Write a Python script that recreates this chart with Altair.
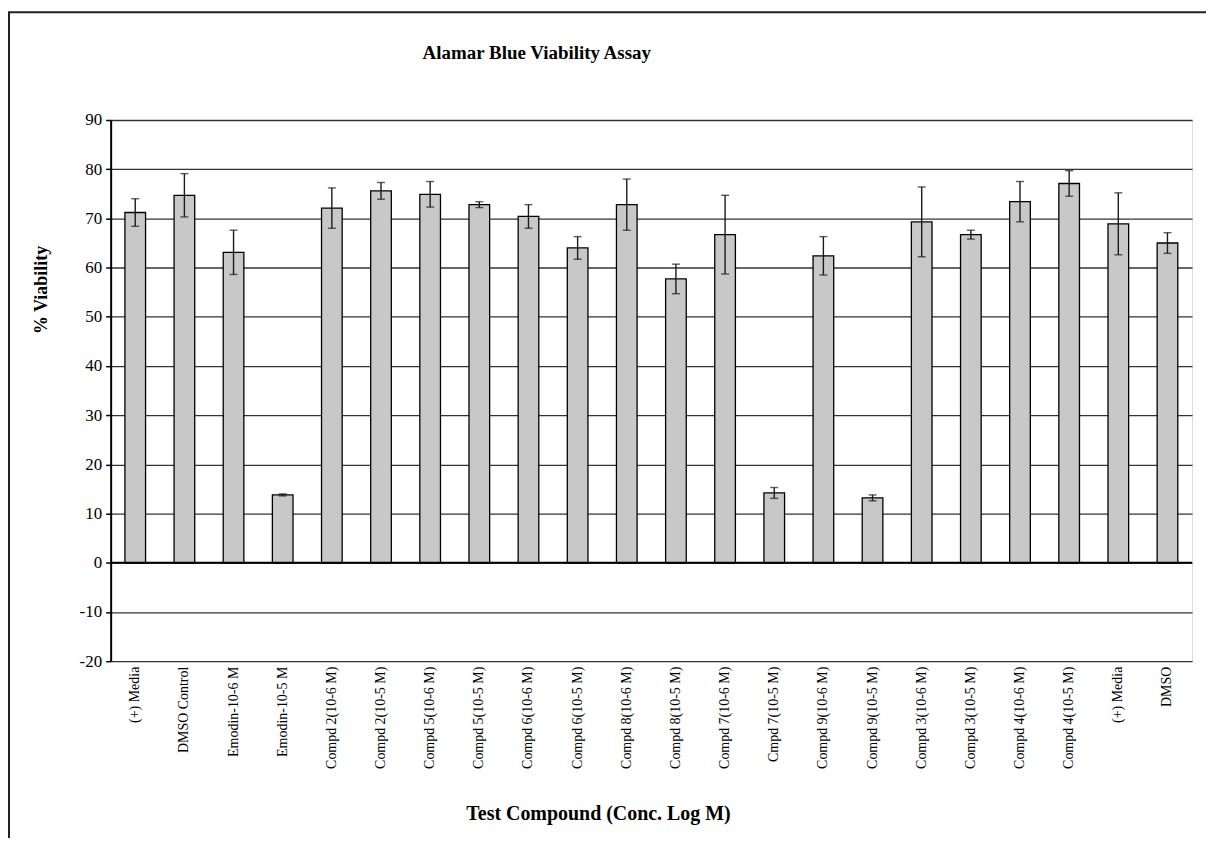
import json
import altair as alt
import pandas as pd

labels = ["(+) Media", "DMSO Control", "Emodin-10-6 M", "Emodin-10-5 M",
          "Compd 2(10-6 M)", "Compd 2(10-5 M)", "Compd 5(10-6 M)", "Compd 5(10-5 M)",
          "Compd 6(10-6 M)", "Compd 6(10-5 M)", "Compd 8(10-6 M)", "Compd 8(10-5 M)",
          "Compd 7(10-6 M)", "Cmpd 7(10-5 M)", "Compd 9(10-6 M)", "Compd 9(10-5 M)",
          "Compd 3(10-6 M)", "Compd 3(10-5 M)", "Compd 4(10-6 M)", "Compd 4(10-5 M)",
          "(+) Media", "DMSO"]
values = [71.2, 74.7, 63.1, 13.8, 72.1, 75.6, 74.9, 72.8, 70.4, 64.0, 72.8, 57.7,
          66.7, 14.2, 62.4, 13.2, 69.3, 66.7, 73.4, 77.1, 68.9, 65.0]
errors = [2.8, 4.4, 4.5, 0.2, 4.1, 1.7, 2.6, 0.6, 2.4, 2.3, 5.2, 3.0,
          8.0, 1.1, 3.9, 0.6, 7.1, 0.9, 4.1, 2.6, 6.3, 2.1]
y_ticks = [-20, -10, 0, 10, 20, 30, 40, 50, 60, 70, 80, 90]

df = pd.DataFrame({"idx": list(range(len(labels))), "label": labels,
                   "value": values, "err": errors})
df["lo"] = df["value"] - df["err"]
df["hi"] = df["value"] + df["err"]

FONT = "Liberation Serif"
label_expr = json.dumps(labels) + "[datum.value]"

W, H = 1085, 543

x = alt.X("idx:O",
          scale=alt.Scale(paddingInner=0.58, paddingOuter=0.29),
          axis=alt.Axis(title="Test Compound (Conc. Log M)", labelExpr=label_expr,
                        labelAngle=-90, labelFont=FONT, labelFontSize=14,
                        labelColor="black", labelPadding=5, ticks=False, domain=False,
                        titleFont=FONT, titleFontSize=20, titleFontWeight="bold",
                        titleColor="black", titleX=489, titleY=153,
                        titleAlign="center", titleBaseline="middle"))
y_scale = alt.Scale(domain=[-20, 90], nice=False, zero=False)
y = alt.Y("value:Q", scale=y_scale,
          axis=alt.Axis(values=y_ticks, title="% Viability", grid=True,
                        labelExpr="datum.value + ''",
                        gridColor="#333333", gridWidth=1.3,
                        domainColor="black", domainWidth=2,
                        tickColor="black", tickSize=5, tickWidth=1.5,
                        labelFont=FONT, labelFontSize=17, labelColor="black",
                        labelPadding=4,
                        titleFont=FONT, titleFontSize=18, titleFontWeight="bold",
                        titleColor="black", titleAngle=-90, titleX=-69, titleY=170,
                        titleAlign="center", titleBaseline="middle"))

base = alt.Chart(df)

bars = base.mark_bar(fill="#c8c8c8", stroke="black", strokeWidth=1.3).encode(x=x, y=y)

err_rule = base.mark_rule(color="#1a1a1a", strokeWidth=1.4).encode(
    x="idx:O", y=alt.Y("lo:Q", scale=y_scale), y2="hi:Q")
cap_hi = base.mark_tick(color="#1a1a1a", thickness=1.4, size=8).encode(
    x="idx:O", y=alt.Y("hi:Q", scale=y_scale))
cap_lo = base.mark_tick(color="#1a1a1a", thickness=1.4, size=8).encode(
    x="idx:O", y=alt.Y("lo:Q", scale=y_scale))

zero = alt.Chart(alt.Data(values=[{"z": 0}])).mark_rule(
    color="black", strokeWidth=2).encode(y=alt.Y("z:Q", scale=y_scale))

title = alt.Chart(alt.Data(values=[{"t": "Alamar Blue Viability Assay"}])).mark_text(
    font=FONT, fontSize=19, fontWeight="bold", color="black",
    align="left", baseline="alphabetic").encode(
    text="t:N", x=alt.value(313), y=alt.value(-61))

frame = alt.Chart(alt.Data(values=[{"f": 1}])).mark_rect(
    filled=False, stroke="#222222", strokeWidth=2).encode(
    x=alt.value(-102), x2=alt.value(1200), y=alt.value(-108), y2=alt.value(760))

chart = alt.layer(frame, bars, err_rule, cap_hi, cap_lo, zero, title).properties(
    width=W, height=H,
    autosize=alt.AutoSizeParams(type="none"),
    padding={"left": 103, "top": 111, "right": 14, "bottom": 176},
).configure_view(stroke="#808080", strokeWidth=1.5).configure(background="white")

chart.save("out.html", embed_options={"renderer": "svg", "actions": False})
